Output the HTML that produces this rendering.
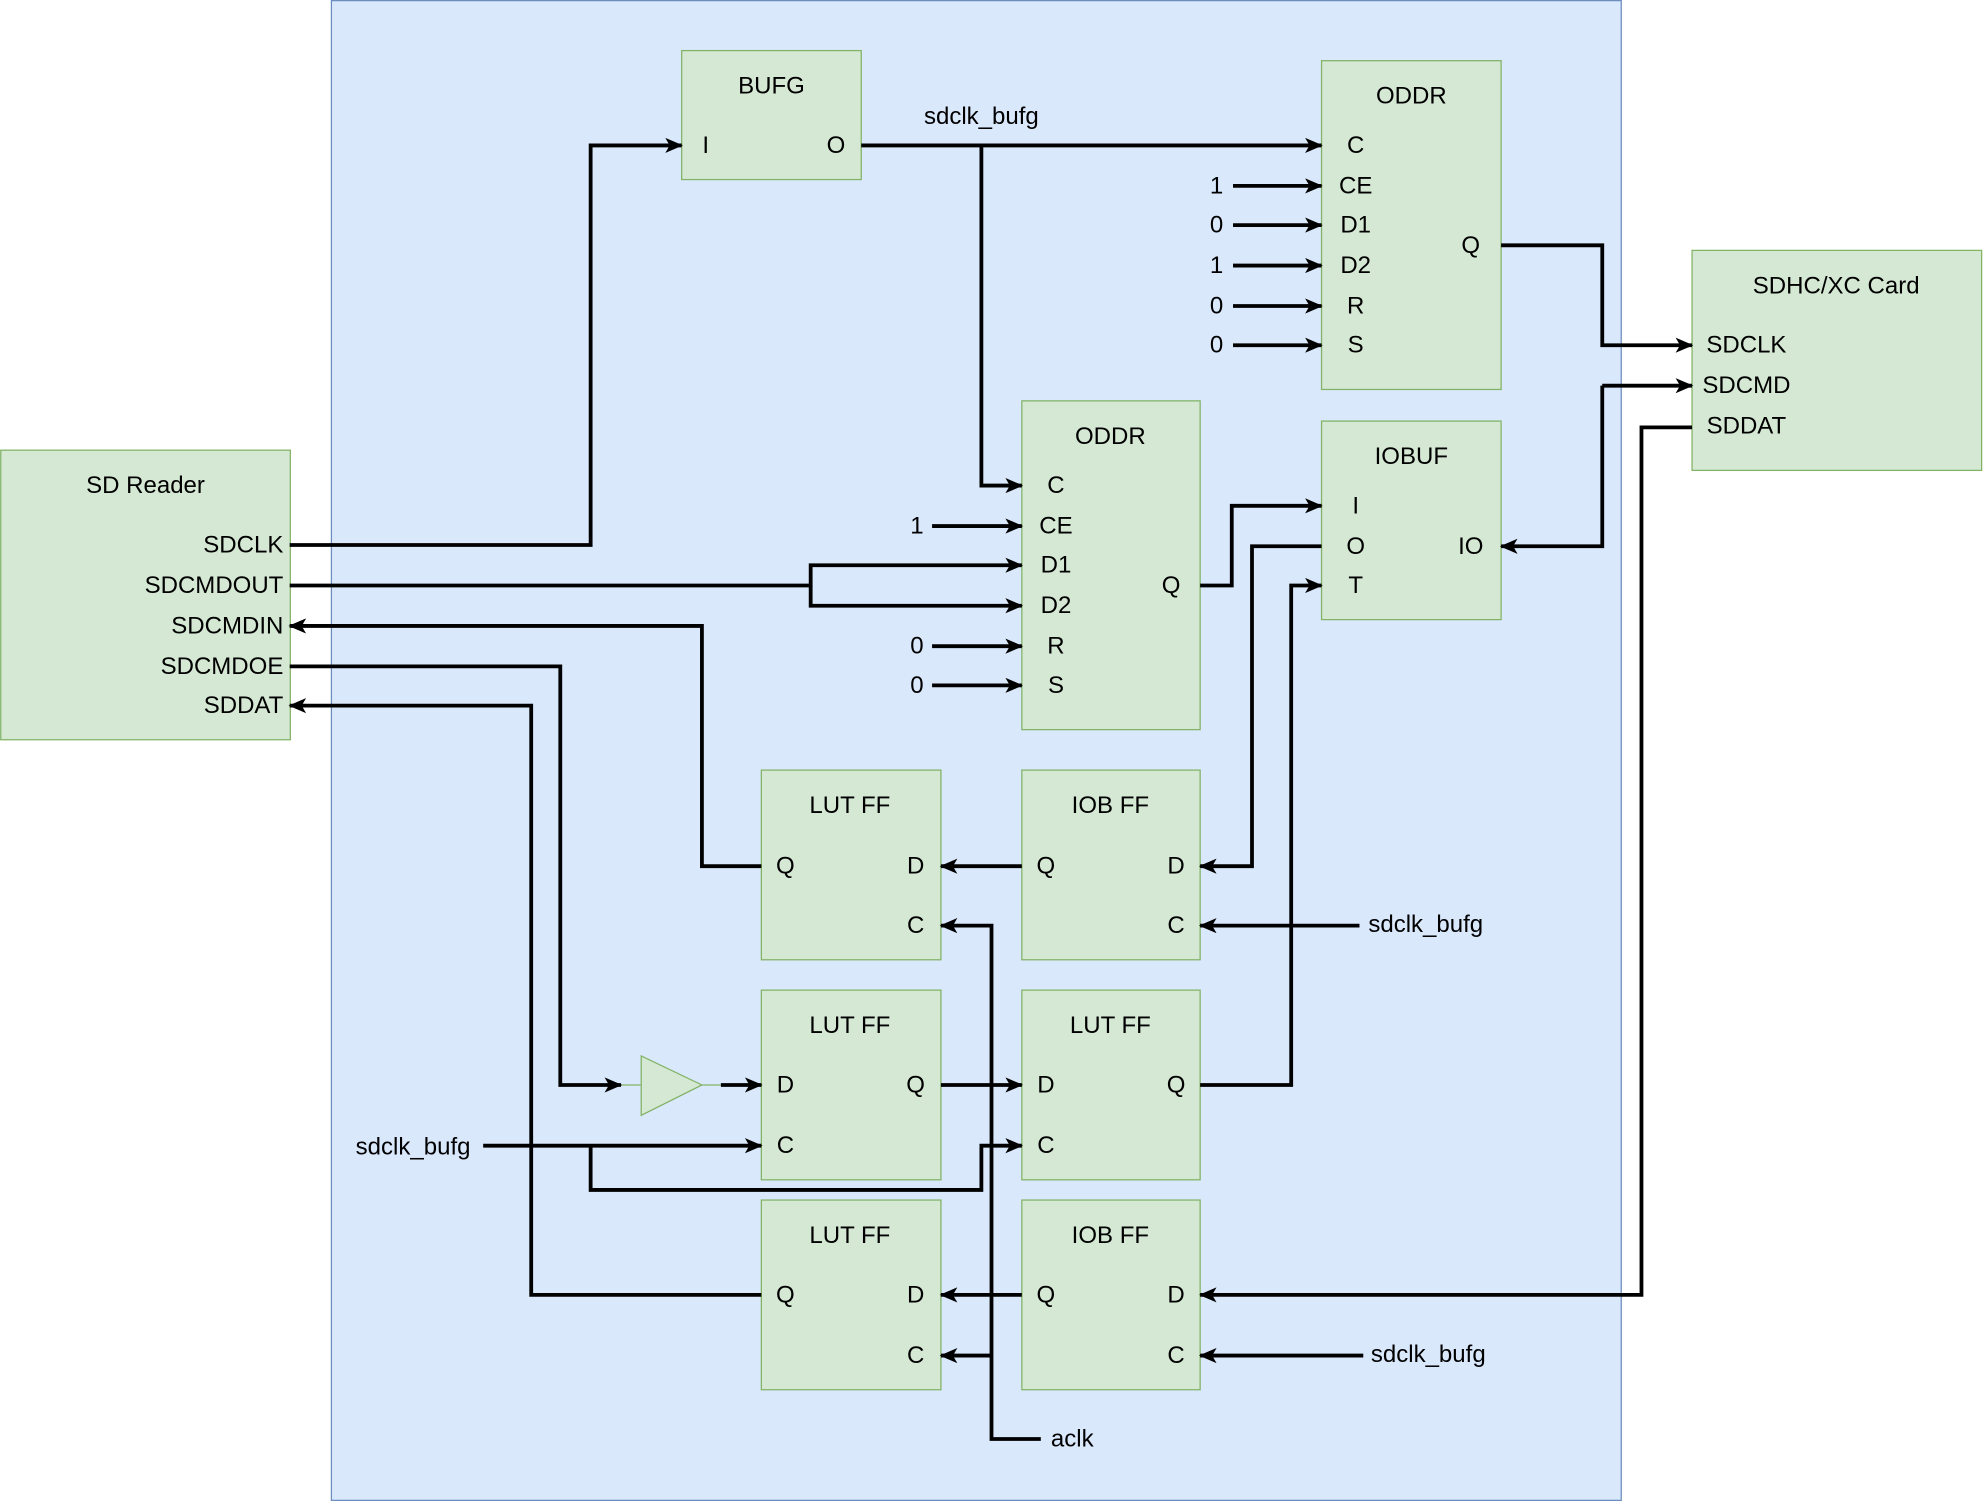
<!DOCTYPE html>
<html><head><meta charset="utf-8"><style>
html,body{margin:0;padding:0;background:#fff}
svg{display:block}
text{font-family:"Liberation Sans",sans-serif;font-size:19px;fill:#000}
</style></head><body>
<svg width="1983" height="1501" viewBox="0 0 1568 1187" xmlns="http://www.w3.org/2000/svg">
<defs>
<marker id="a" viewBox="0 0 14 12" refX="13" refY="6" markerWidth="14" markerHeight="12" markerUnits="userSpaceOnUse" orient="auto">
<path d="M0,0 L14,6 L0,12 L3.5,6 Z" fill="#000"/>
</marker>
</defs>
<rect x="262" y="0.5" width="1020" height="1186" fill="#dae8fc" stroke="#6c8ebf"/>
<g fill="#d5e8d4" stroke="#82b366">
<rect x="539" y="40" width="142" height="102"/>
<rect x="1045" y="48" width="142" height="260"/>
<rect x="808" y="317" width="141" height="260"/>
<rect x="1338" y="198" width="229" height="174"/>
<rect x="1045" y="333" width="142" height="157"/>
<rect x="0.5" y="356" width="229" height="229"/>
<rect x="602" y="609" width="142" height="150"/>
<rect x="808" y="609" width="141" height="150"/>
<rect x="602" y="783" width="142" height="150"/>
<rect x="808" y="783" width="141" height="150"/>
<rect x="602" y="949" width="142" height="150"/>
<rect x="808" y="949" width="141" height="150"/>
<path d="M507,835 L555,858 L507,882 Z"/>
<path d="M491,858 L507,858 M555,858 L570,858" fill="none"/>
</g>
<g fill="none" stroke="#000" stroke-width="3">
<path d="M681,115 H1045" marker-end="url(#a)"/>
<path d="M776,115 V384 H808" marker-end="url(#a)"/>
<path d="M975,147 H1045" marker-end="url(#a)"/>
<path d="M975,178 H1045" marker-end="url(#a)"/>
<path d="M975,210 H1045" marker-end="url(#a)"/>
<path d="M975,242 H1045" marker-end="url(#a)"/>
<path d="M975,273 H1045" marker-end="url(#a)"/>
<path d="M737,416 H808" marker-end="url(#a)"/>
<path d="M737,511 H808" marker-end="url(#a)"/>
<path d="M737,542 H808" marker-end="url(#a)"/>
<path d="M1187,194 H1267 V273 H1338" marker-end="url(#a)"/>
<path d="M1267,305 H1338" marker-end="url(#a)"/>
<path d="M1267,305 V432 H1187" marker-end="url(#a)"/>
<path d="M949,463 H974 V400 H1045" marker-end="url(#a)"/>
<path d="M1045,432 H990 V685 H949" marker-end="url(#a)"/>
<path d="M949,858 H1021 V463 H1045" marker-end="url(#a)"/>
<path d="M1338,338 H1298 V1024 H949" marker-end="url(#a)"/>
<path d="M229,431 H467 V115 H539" marker-end="url(#a)"/>
<path d="M229,463 H641 V447 H808" marker-end="url(#a)"/>
<path d="M641,463 V479 H808" marker-end="url(#a)"/>
<path d="M602,685 H555 V495 H229" marker-end="url(#a)"/>
<path d="M229,527 H443 V858 H491" marker-end="url(#a)"/>
<path d="M570,858 H602" marker-end="url(#a)"/>
<path d="M602,1024 H420 V558 H229" marker-end="url(#a)"/>
<path d="M808,685 H744" marker-end="url(#a)"/>
<path d="M1075,732 H949" marker-end="url(#a)"/>
<path d="M744,858 H808" marker-end="url(#a)"/>
<path d="M382,906 H602" marker-end="url(#a)"/>
<path d="M467,906 V941 H776 V906 H808" marker-end="url(#a)"/>
<path d="M808,1024 H744" marker-end="url(#a)"/>
<path d="M1078,1072 H949" marker-end="url(#a)"/>
<path d="M823,1138 H784 V732 H744" marker-end="url(#a)"/>
<path d="M784,1072 H744" marker-end="url(#a)"/>
</g>
<g text-anchor="middle" dominant-baseline="central">
<text x="610" y="68">BUFG</text><text x="558" y="115">I</text><text x="661" y="115">O</text>
<text x="776" y="92">sdclk_bufg</text>
<text x="1116" y="76">ODDR</text>
<text x="1072" y="115">C</text><text x="1072" y="147">CE</text><text x="1072" y="178">D1</text><text x="1072" y="210">D2</text><text x="1072" y="242">R</text><text x="1072" y="273">S</text>
<text x="1163" y="194">Q</text>
<text x="962" y="147">1</text><text x="962" y="178">0</text><text x="962" y="210">1</text><text x="962" y="242">0</text><text x="962" y="273">0</text>
<text x="878" y="345">ODDR</text>
<text x="835" y="384">C</text><text x="835" y="416">CE</text><text x="835" y="447">D1</text><text x="835" y="479">D2</text><text x="835" y="511">R</text><text x="835" y="542">S</text>
<text x="926" y="463">Q</text>
<text x="725" y="416">1</text><text x="725" y="511">0</text><text x="725" y="542">0</text>
<text x="1452" y="226">SDHC/XC Card</text>
<text x="1381" y="273">SDCLK</text><text x="1381" y="305">SDCMD</text><text x="1381" y="337">SDDAT</text>
<text x="1116" y="361">IOBUF</text>
<text x="1072" y="400">I</text><text x="1072" y="432">O</text><text x="1072" y="463">T</text><text x="1163" y="432">IO</text>
<text x="115" y="384">SD Reader</text>
<text x="672" y="637">LUT FF</text><text x="621" y="685">Q</text><text x="724" y="685">D</text><text x="724" y="732">C</text>
<text x="878" y="637">IOB FF</text><text x="827" y="685">Q</text><text x="930" y="685">D</text><text x="930" y="732">C</text>
<text x="672" y="811">LUT FF</text><text x="621" y="858">D</text><text x="724" y="858">Q</text><text x="621" y="906">C</text>
<text x="878" y="811">LUT FF</text><text x="827" y="858">D</text><text x="930" y="858">Q</text><text x="827" y="906">C</text>
<text x="672" y="977">LUT FF</text><text x="621" y="1024">Q</text><text x="724" y="1024">D</text><text x="724" y="1072">C</text>
<text x="878" y="977">IOB FF</text><text x="827" y="1024">Q</text><text x="930" y="1024">D</text><text x="930" y="1072">C</text>
</g>
<g text-anchor="end" dominant-baseline="central">
<text x="224" y="431">SDCLK</text><text x="224" y="463">SDCMDOUT</text><text x="224" y="495">SDCMDIN</text><text x="224" y="527">SDCMDOE</text><text x="224" y="558">SDDAT</text>
<text x="372" y="907">sdclk_bufg</text>
</g>
<g dominant-baseline="central">
<text x="1082" y="731">sdclk_bufg</text>
<text x="1084" y="1071">sdclk_bufg</text>
<text x="831" y="1138">aclk</text>
</g>
</svg>
</body></html>
